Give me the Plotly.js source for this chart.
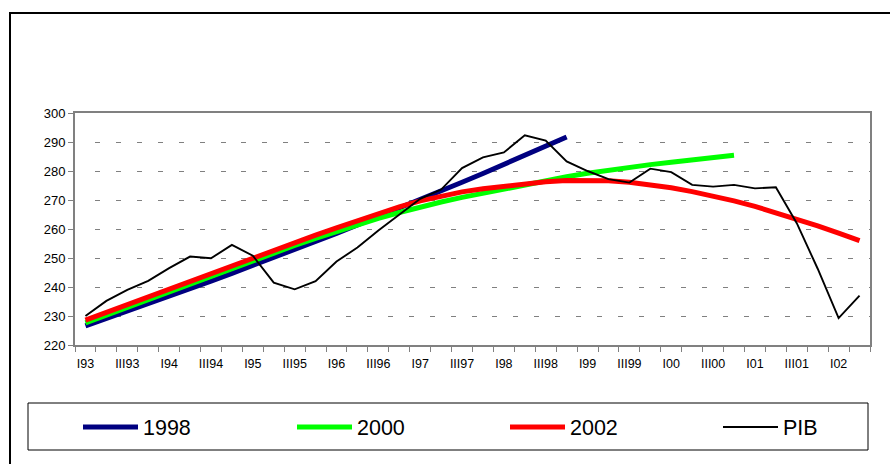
<!DOCTYPE html>
<html><head><meta charset="utf-8">
<script src="https://cdn.plot.ly/plotly-3.0.1.min.js"></script>
<style>html,body{margin:0;padding:0;background:#fff}#chart{width:890px;height:464px}</style>
</head><body><div id="chart"></div>
<script>
const quarters = ["I93","II93","III93","IV93","I94","II94","III94","IV94","I95","II95","III95","IV95",
  "I96","II96","III96","IV96","I97","II97","III97","IV97","I98","II98","III98","IV98",
  "I99","II99","III99","IV99","I00","II00","III00","IV00","I01","II01","III01","IV01","I02","II02"];
const tickLabels = ["I93","III93","I94","III94","I95","III95","I96","III96","I97","III97",
  "I98","III98","I99","III99","I00","III00","I01","III01","I02"];
const yTicks = [220,230,240,250,260,270,280,290,300];

const trend1998 = [226.6,229.1,231.63,234.19,236.77,239.39,242.03,244.7,247.4,250.14,252.9,255.69,
  258.51,261.37,264.25,267.17,270.12,273.1,276.11,279.16,282.24,285.36,288.51,291.7];
const trend2000 = [227.6,230.3,233.0,235.7,238.4,241.1,243.8,246.5,249.1,251.7,254.3,256.8,
  259.2,261.5,263.7,265.7,267.6,269.3,270.9,272.4,273.9,275.3,276.7,278.0,279.2,280.3,281.3,
  282.2,283.0,283.8,284.6,285.4];
const trend2002 = [228.6,231.3,234.0,236.7,239.4,242.1,244.8,247.5,250.1,252.7,255.3,257.9,
  260.4,262.9,265.3,267.6,269.7,271.4,272.8,273.9,274.8,275.6,276.3,276.7,276.8,276.6,276.1,
  275.3,274.2,272.9,271.4,269.7,267.8,265.7,263.5,261.1,258.6,256.0];
const pib = [230.0,235.2,239.0,242.1,246.5,250.5,249.9,254.5,250.8,241.5,239.2,242.0,
  248.8,253.6,259.5,264.9,270.4,273.6,281.0,284.7,286.4,292.3,290.5,283.3,
  280.0,277.2,276.0,280.8,279.6,275.2,274.6,275.2,274.0,274.4,262.0,246.3,229.3,237.0];

const W = 890, H = 464, L = 75, R = 20, T = 113, B = 119;
const pw = W - L - R, ph = H - T - B;
const px = x => (x - L) / pw;
const py = y => (H - B - y) / ph;

const gridDash = ["0px", "20px"];
for (let k = 0; k < 40; k++) { gridDash.push("5px", "15.92px"); }

const tickText = quarters.map(q => tickLabels.includes(q) ? q : "");

const traces = [
  {name: "1998", legend: "legend", x: quarters.slice(0, trend1998.length), y: trend1998, type: "scatter", mode: "lines",
   line: {color: "#000080", width: 5}},
  {name: "2000", legend: "legend2", x: quarters.slice(0, trend2000.length), y: trend2000, type: "scatter", mode: "lines",
   line: {color: "#00FF00", width: 5}},
  {name: "2002", legend: "legend3", x: quarters.slice(0, trend2002.length), y: trend2002, type: "scatter", mode: "lines",
   line: {color: "#FF0000", width: 5}},
  {name: "PIB", legend: "legend4", x: quarters, y: pib, type: "scatter", mode: "lines",
   line: {color: "#000000", width: 1.9}}
];

function legendAt(xPix) {
  return {
    orientation: "h", x: px(xPix), xanchor: "left", y: py(427), yanchor: "middle",
    bgcolor: "rgba(0,0,0,0)", borderwidth: 0,
    font: {family: "Liberation Sans, Arial", size: 21.5, color: "#000"},
    itemwidth: 55
  };
}

const layout = {
  width: W, height: H,
  margin: {l: L, r: R, t: T, b: B, autoexpand: false},
  paper_bgcolor: "#ffffff", plot_bgcolor: "#ffffff",
  font: {family: "Liberation Sans, Arial, sans-serif", color: "#000", size: 13},
  showlegend: true,
  legend: legendAt(78), legend2: legendAt(292), legend3: legendAt(505), legend4: legendAt(718),
  xaxis: {
    type: "category", categoryorder: "array", categoryarray: quarters,
    range: [-0.5, quarters.length - 0.5], autorange: false,
    tickmode: "array", tickvals: quarters, ticktext: tickText, tickson: "boundaries",
    ticks: "outside", ticklen: 5, tickcolor: "#808080", tickwidth: 1,
    showline: true, linecolor: "#808080", linewidth: 2, mirror: true,
    showgrid: false, zeroline: false, tickangle: 0, ticklabelstandoff: 6,
    tickfont: {size: 12.5, family: "Liberation Sans, Arial", color: "#000"}
  },
  yaxis: {
    range: [220, 300], autorange: false, tickmode: "array", tickvals: yTicks,
    ticks: "outside", ticklen: 5, tickcolor: "#808080", tickwidth: 1,
    showline: true, linecolor: "#808080", linewidth: 2, mirror: true,
    showgrid: true, gridcolor: "#808080", gridwidth: 1, griddash: gridDash.join(","),
    zeroline: false,
    tickfont: {size: 13, family: "Liberation Sans, Arial", color: "#000"}
  },
  shapes: [
    {type: "rect", xref: "paper", yref: "paper", x0: px(10), y0: py(13), x1: px(905), y1: py(480),
     line: {color: "#000", width: 2}, fillcolor: "rgba(0,0,0,0)", layer: "above"},
    {type: "rect", xref: "paper", yref: "paper", x0: px(28), y0: py(403), x1: px(868), y1: py(450),
     line: {color: "#000", width: 1}, fillcolor: "rgba(0,0,0,0)", layer: "above"}
  ]
};

Plotly.newPlot("chart", traces, layout, {staticPlot: true, displayModeBar: false});
</script>
</body></html>
